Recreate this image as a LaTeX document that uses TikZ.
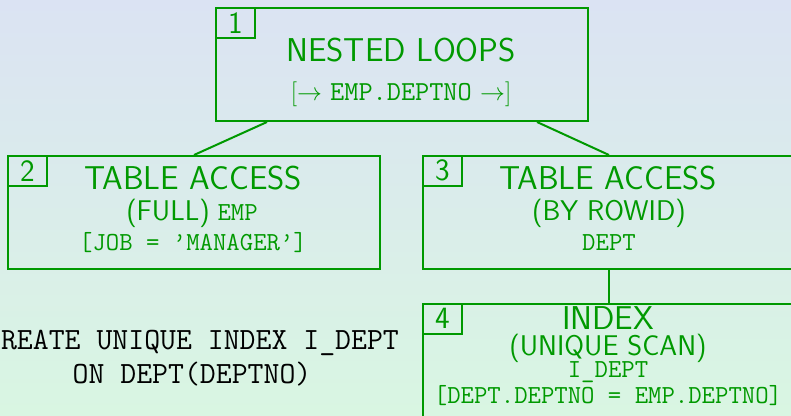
\documentclass[tikz,border=0pt]{standalone}
\usetikzlibrary{calc}
\definecolor{dbgreen}{RGB}{0,153,0}
\definecolor{bgtop}{RGB}{219,227,243}
\definecolor{bgbot}{RGB}{217,246,226}
\begin{document}
\begin{tikzpicture}[x=1pt,y=-1pt,
  box/.style={draw=dbgreen, line width=2pt, minimum width=372pt, minimum height=113pt, inner sep=0pt, anchor=north west},
  numbox/.style={draw=dbgreen, line width=1.6pt, minimum width=39pt, minimum height=30pt, inner sep=0pt, anchor=north west, text=dbgreen, font=\fontsize{31}{32}\selectfont\sffamily},
  big/.style={text=dbgreen, font=\fontsize{33}{34}\selectfont\sffamily, anchor=base, inner sep=0pt},
  small/.style={text=dbgreen, font=\fontsize{26}{27}\selectfont, anchor=base, inner sep=0pt},
  ssmall/.style={text=dbgreen, font=\fontsize{28.5}{29}\selectfont\sffamily, anchor=base, inner sep=0pt},
  edge/.style={draw=dbgreen, line width=2pt},
  code/.style={font=\fontsize{30.9}{32}\selectfont\ttfamily, anchor=base, inner sep=0pt}]
\useasboundingbox (0,0) rectangle (791,415);
\clip (0,0) rectangle (791,415);
\shade[top color=bgtop, bottom color=bgbot] (0,0) rectangle (791,415);

% boxes
\node[box] (b1) at (215,7) {};
\node[box] (b2) at (7,155) {};
\node[box] (b3) at (422,155) {};
\node[box] (b4) at (422,303) {};

% number labels
\node[numbox] (n1) at (215,7) {1};
\node[numbox] (n2) at (7,155) {2};
\node[numbox] (n3) at (422,155) {3};
\node[numbox] (n4) at (422,303) {4};

% connectors
\draw[edge] ($(b1.south west)+(52,0)$) -- (b2.north);
\draw[edge] ($(b1.south east)+(-52,0)$) -- (b3.north);
\draw[edge] (b3.south) -- (b4.north);

% box 1 text
\node[big] (t1a) at (401,61.5) {NESTED LOOPS};
\node[small, font=\fontsize{27.5}{28}\selectfont] (t1b) at (401,100.5) {$[\rightarrow$ \texttt{EMP.DEPTNO} $\rightarrow]$};

% box 2 text
\node[big] (t2a) at (193,189.3) {TABLE ACCESS};
\node[small] (t2b) at (192,220) {{\fontsize{28.5}{29}\selectfont\sffamily (FULL)} \ttfamily EMP};
\node[small] (t2c) at (193,250.7) {\ttfamily [JOB = \textquoteright MANAGER\textquoteright]};

% box 3 text
\node[big] (t3a) at (608,189.3) {TABLE ACCESS};
\node[ssmall] (t3b) at (609,220) {(BY ROWID)};
\node[small] (t3c) at (609,250.7) {\ttfamily DEPT};

% box 4 text
\node[big, text height=22pt, text depth=0pt] (t4a) at (608,329.3) {INDEX};
\node[ssmall, text height=19pt, text depth=4pt] (t4b) at (608,355) {(UNIQUE SCAN)};
\node[small, text height=16pt, text depth=3pt] (t4c) at (608,377.3) {\ttfamily I\_DEPT};
\node[small, text height=18pt, text depth=3pt] (t4d) at (608,403.3) {\ttfamily [DEPT.DEPTNO = EMP.DEPTNO]};

% SQL statement
\node[code] (c1) at (192,349) {CREATE UNIQUE INDEX I\_DEPT};
\node[code] (c2) at (192,383.5) {ON DEPT(DEPTNO)};
\end{tikzpicture}
\end{document}
